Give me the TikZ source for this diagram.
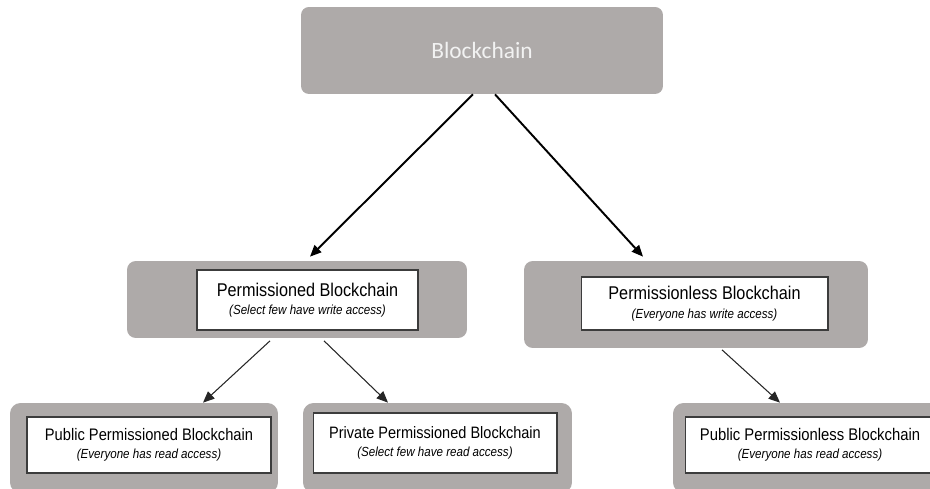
\documentclass[tikz,border=0pt]{standalone}
\usepackage{fontspec}
\setmainfont{Liberation Sans}[FakeStretch=0.88]
\newfontfamily\calibri{Carlito}
\usetikzlibrary{arrows.meta,calc,positioning}
\definecolor{chaingray}{RGB}{174,170,169}
\definecolor{edgegray}{RGB}{60,60,60}
\tikzset{outer/.style={fill=chaingray,draw=none,rounded corners=5pt,inner sep=0pt},
  inner/.style={draw=edgegray,line width=0.6pt,fill=white,align=center,inner sep=0pt},
  arr/.style={-{Triangle[length=6.5pt,width=5.5pt]},line width=1.1pt},
  thinarr/.style={-{Triangle[length=6.5pt,width=5.5pt]},line width=0.6pt,draw=black!85}}
\newcommand{\boxtext}[3][9.4]{{\fontsize{#1}{12}\selectfont #2}\\[-1.5pt]{\fontsize{7.5}{9}\selectfont\itshape #3}}

\begin{document}
\begin{tikzpicture}[x=0.02cm,y=-0.02cm]
\clip (0,0) rectangle (930,489);
% top level
\node[outer,rounded corners=4.5pt,minimum width=7.24cm,minimum height=1.74cm,font=\calibri\fontsize{13.3}{16}\selectfont,text=white!95!black] (chain) at (482,50.5) {Blockchain};
% second level
\node[outer,minimum width=6.8cm,minimum height=1.54cm] (perm) at (297,299.5) {};
\node[inner,minimum width=4.42cm,minimum height=1.2cm] (permtxt) at (307.5,300) {\boxtext[10.5]{Permissioned Blockchain}{(Select few have write access)}};
\node[outer,minimum width=6.88cm,minimum height=1.74cm] (permless) at (696,304.5) {};
\node[inner,minimum width=4.94cm,minimum height=1.06cm] (permlesstxt) at (704.5,303.5) {\boxtext[10.5]{Permissionless Blockchain}{(Everyone has write access)}};
% third level
\node[outer,rounded corners=6pt,minimum width=5.36cm,minimum height=1.8cm] (pubperm) at (144,448) {};
\node[inner,minimum width=4.88cm,minimum height=1.12cm] (pubpermtxt) at (149,445) {\boxtext[9.5]{Public Permissioned Blockchain}{(Everyone has read access)}};
\node[outer,rounded corners=6pt,minimum width=5.38cm,minimum height=1.8cm] (privperm) at (437.5,448) {};
\node[inner,minimum width=4.88cm,minimum height=1.2cm] (privpermtxt) at (435,443) {\boxtext[9.4]{Private Permissioned Blockchain}{(Select few have read access)}};
\node[outer,rounded corners=6pt,minimum width=5.44cm,minimum height=1.8cm] (publess) at (809,448) {};
\node[inner,minimum width=5cm,minimum height=1.12cm] (publesstxt) at (810,445) {\boxtext[9.6]{Public Permissionless Blockchain}{(Everyone has read access)}};
% connectors
\draw[arr] ([xshift=-0.18cm]chain.south) -- ([xshift=0.26cm,yshift=0.08cm]perm.north);
\draw[arr] ([xshift=0.26cm]chain.south) -- ([xshift=-1.06cm,yshift=0.08cm]permless.north);
\draw[thinarr] ([xshift=-0.54cm,yshift=-0.05cm]perm.south) -- ([xshift=1.18cm]pubperm.north);
\draw[thinarr] ([xshift=0.54cm,yshift=-0.05cm]perm.south) -- ([xshift=-0.99cm]privperm.north);
\draw[thinarr] ([xshift=0.52cm,yshift=-0.03cm]permless.south) -- ([xshift=-0.58cm]publess.north);
\end{tikzpicture}
\end{document}
